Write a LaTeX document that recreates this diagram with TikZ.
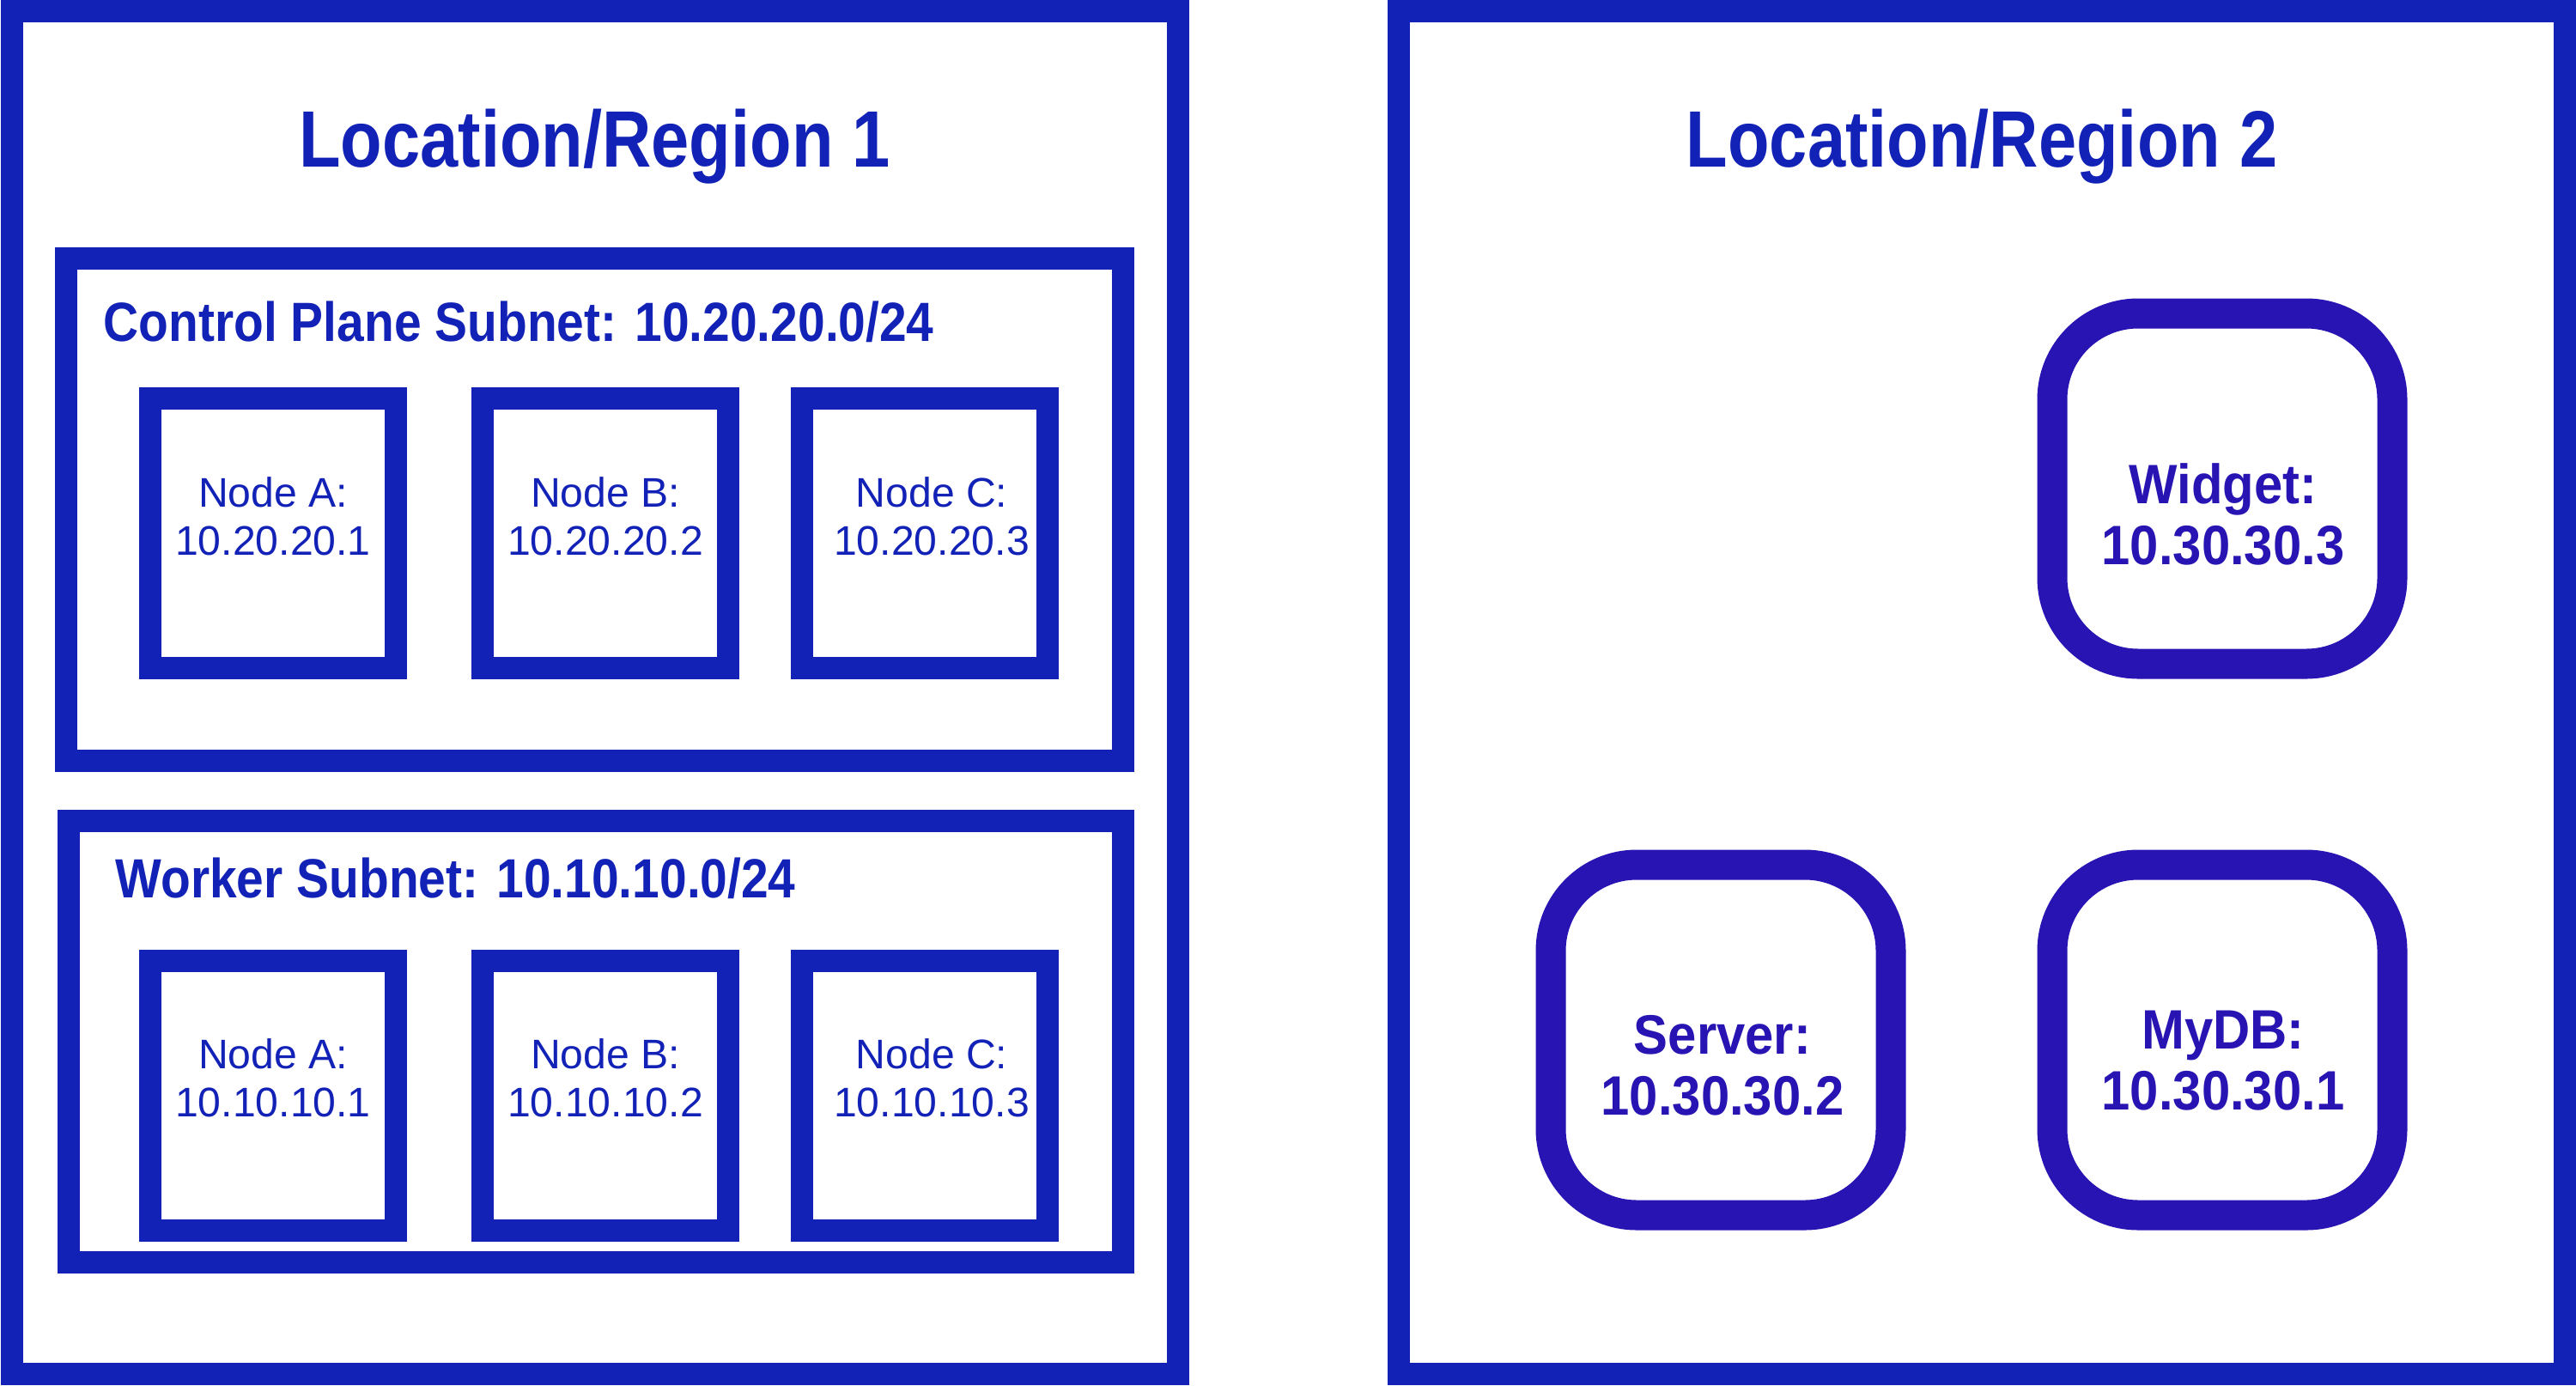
\documentclass[tikz,border=0pt]{standalone}
\usepackage{fontspec}
\setmainfont{Liberation Sans}
\newfontfamily\regionfont{Liberation Sans}[FakeStretch=0.853]
\newfontfamily\subnetfont{Liberation Sans}[FakeStretch=0.885]
\newfontfamily\appfont{Liberation Sans}[FakeStretch=0.925]
\usepackage{tikz}
\usetikzlibrary{positioning}
\definecolor{netblue}{RGB}{18,34,182}
\definecolor{appblue}{RGB}{39,20,178}

\begin{document}
\begin{tikzpicture}[
    every node/.style={text=netblue, inner sep=0pt},
    region/.style={draw=netblue, line width=0.26cm, minimum width=13.58cm, minimum height=15.87cm},
    regiontitle/.style={anchor=base, font=\regionfont\bfseries\fontsize{26.5pt}{30pt}\selectfont},
    subnet/.style={draw=netblue, line width=0.26cm},
    subnettitle/.style={anchor=base west, font=\subnetfont\bfseries\fontsize{18.3pt}{21pt}\selectfont},
    vmbox/.style={draw=netblue, line width=0.26cm, minimum width=2.86cm, minimum height=3.14cm},
    vmtext/.style={align=center, font=\fontsize{13.7pt}{15.9pt}\selectfont},
    appbox/.style={draw=appblue, line width=0.35cm, rounded corners=1cm, minimum width=3.96cm, minimum height=4.08cm},
    apptext/.style={align=center, text=appblue, font=\appfont\bfseries\fontsize{18.4pt}{20.2pt}\selectfont}
  ]
    \useasboundingbox (0,0) rectangle (30,-16.13);
    % the two locations
    \node[region] (R1) at (6.925,-8.065) {};
    \node[region] (R2) at (23.075,-8.065) {};
    \node[regiontitle] (R1t) at (6.925,-1.94) {Location/Region 1};
    \node[regiontitle] (R2t) at (23.08,-1.94) {Location/Region 2};
    % control plane subnet
    \node[subnet, minimum width=12.31cm, minimum height=5.85cm] (cp) at (6.925,-5.935) {};
    \node[subnettitle] (cpt) at (1.20,-3.97) {Control Plane Subnet: 10.20.20.0/24};
    \node[vmbox] (cpA) at (3.18,-6.21) {};
    \node[vmbox] (cpB) at (7.05,-6.21) {};
    \node[vmbox] (cpC) at (10.77,-6.21) {};
    \node[vmtext] (cpAt) at (3.18,-6.01) {Node A:\\10.20.20.1};
    \node[vmtext] (cpBt) at (7.05,-6.01) {Node B:\\10.20.20.2};
    \node[vmtext] (cpCt) at (10.85,-6.01) {Node C:\\10.20.20.3};
    % worker subnet
    \node[subnet, minimum width=12.28cm, minimum height=5.14cm] (wk) at (6.94,-12.13) {};
    \node[subnettitle] (wkt) at (1.34,-10.45) {Worker Subnet: 10.10.10.0/24};
    \node[vmbox] (wkA) at (3.18,-12.76) {};
    \node[vmbox] (wkB) at (7.05,-12.76) {};
    \node[vmbox] (wkC) at (10.77,-12.76) {};
    \node[vmtext] (wkAt) at (3.18,-12.555) {Node A:\\10.10.10.1};
    \node[vmtext] (wkBt) at (7.05,-12.555) {Node B:\\10.10.10.2};
    \node[vmtext] (wkCt) at (10.85,-12.555) {Node C:\\10.10.10.3};
    % services in region 2
    \node[appbox] (widget) at (25.88,-5.69) {};
    \node[appbox] (server) at (20.04,-12.11) {};
    \node[appbox] (mydb) at (25.88,-12.11) {};
    \node[apptext] (widgett) at (25.89,-5.99) {Widget:\\10.30.30.3};
    \node[apptext] (servert) at (20.06,-12.41) {Server:\\10.30.30.2};
    \node[apptext] (mydbt) at (25.89,-12.35) {MyDB:\\10.30.30.1};
\end{tikzpicture}
\end{document}
